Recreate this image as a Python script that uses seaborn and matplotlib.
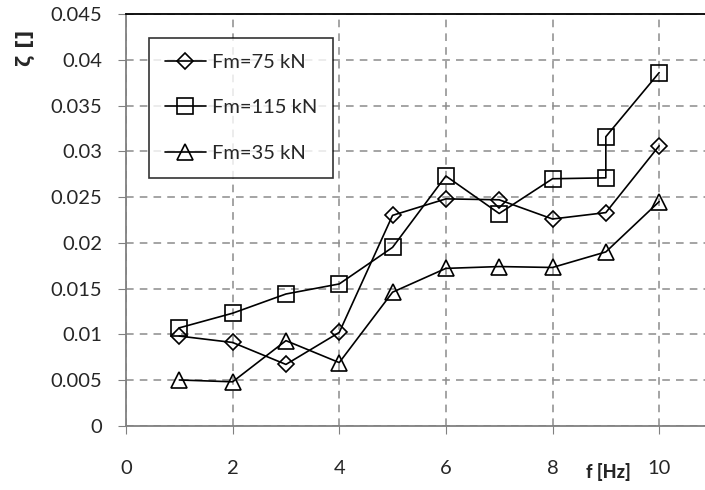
import matplotlib
matplotlib.use("Agg")
import matplotlib.pyplot as plt
import seaborn as sns
import pandas as pd

# data
f_75 = [1, 2, 3, 4, 5, 6, 7, 8, 9, 10]
zeta_75 = [0.0098, 0.0091, 0.0067, 0.0102, 0.0230, 0.0248, 0.0247, 0.0226, 0.0233, 0.0306]
f_115 = [1, 2, 3, 4, 5, 6, 7, 8, 9, 9, 10]
zeta_115 = [0.0107, 0.0123, 0.0144, 0.0155, 0.0195, 0.0273, 0.0232, 0.0270, 0.0271, 0.0316, 0.0386]
f_35 = [1, 2, 3, 4, 5, 6, 7, 8, 9, 10]
zeta_35 = [0.0050, 0.0048, 0.0093, 0.0069, 0.0146, 0.0172, 0.0174, 0.0173, 0.0190, 0.0245]

sns.set_style("white")
plt.rcParams['font.family'] = ['Lato', 'DejaVu Sans']

fig = plt.figure(figsize=(7.05, 4.9), dpi=100)
ax = fig.add_axes([0.1787, 0.1312, 0.8213, 0.840])

series = [
    (f_75, zeta_75, "Fm=75 kN", "D", 8.5),
    (f_115, zeta_115, "Fm=115 kN", "s", 11),
    (f_35, zeta_35, "Fm=35 kN", "^", 12),
]
for xs, ys, lab, mk, ms in series:
    df = pd.DataFrame({"f": xs, "zeta": ys})
    sns.lineplot(data=df, x="f", y="zeta", ax=ax, sort=False, estimator=None,
                 color="black", linewidth=1.2, marker=mk, markersize=ms,
                 markerfacecolor="none", markeredgecolor="black",
                 markeredgewidth=1.2, label=lab)

ax.set_xlim(0, 10.86)
ax.set_ylim(0, 0.045)
ax.set_xticks([0, 2, 4, 6, 8, 10])
ax.set_yticks([0, 0.005, 0.01, 0.015, 0.02, 0.025, 0.03, 0.035, 0.04, 0.045])
ax.set_yticklabels(["0", "0.005", "0.01", "0.015", "0.02", "0.025", "0.03", "0.035", "0.04", "0.045"])
ax.grid(True, color="#8c8c8c", linestyle=(0, (5, 4)), linewidth=1.1)
ax.tick_params(axis="both", labelsize=14.5, length=6, color="#808080", direction="out",
               left=True, bottom=True)
ax.tick_params(axis="y", pad=11)
ax.tick_params(axis="x", pad=19)

for side in ["left", "bottom"]:
    ax.spines[side].set_color("#808080")
    ax.spines[side].set_linewidth(1.3)
ax.spines["top"].set_color("black")
ax.spines["top"].set_linewidth(1.3)
ax.spines["right"].set_visible(False)

ax.set_xlabel("")
ax.set_ylabel("")
fig.text(0.036, 0.902, "ζ []", rotation=90, fontsize=14, fontweight="bold",
         family=["DejaVu Sans"], ha="center", va="center")
fig.text(0.863, 0.018, "f [Hz]", fontsize=13, fontweight="black", ha="center", va="bottom")

leg = ax.legend(loc="upper left", bbox_to_anchor=(0.04, 0.942), borderaxespad=0,
                fontsize=14.5, frameon=True, fancybox=False, edgecolor="black",
                handlelength=2.0, labelspacing=1.4, borderpad=0.8, handletextpad=0.3)
leg.get_frame().set_linewidth(1.2)

fig.savefig("out.png", dpi=100)
